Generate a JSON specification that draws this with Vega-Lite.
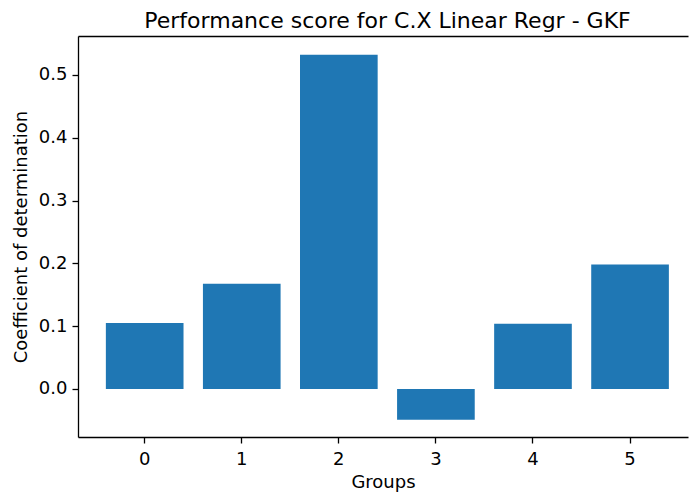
{
  "$schema": "https://vega.github.io/schema/vega-lite/v6.json",
  "width": 610,
  "height": 401,
  "autosize": "none",
  "padding": {"left": 78, "top": 36, "right": 1, "bottom": 58},
  "background": "white",
  "title": {
    "text": "Performance score for C.X Linear Regr - GKF",
    "font": "DejaVu Sans",
    "fontSize": 22,
    "fontWeight": "normal",
    "color": "black",
    "anchor": "middle",
    "frame": "group",
    "dx": 4.5,
    "offset": -14,
    "baseline": "alphabetic"
  },
  "config": {
    "view": {"stroke": null},
    "axis": {
      "labelFont": "DejaVu Sans",
      "titleFont": "DejaVu Sans",
      "labelFontSize": 18,
      "titleFontSize": 18,
      "titleFontWeight": "normal",
      "labelColor": "black",
      "titleColor": "black",
      "domainColor": "black",
      "tickColor": "black",
      "domainWidth": 1.3,
      "tickWidth": 1.3,
      "tickSize": 6,
      "labelPadding": 7,
      "grid": false
    }
  },
  "data": {
    "values": [
      {"group": "0", "score": 0.105},
      {"group": "1", "score": 0.1677},
      {"group": "2", "score": 0.5323},
      {"group": "3", "score": -0.0489},
      {"group": "4", "score": 0.104},
      {"group": "5", "score": 0.198}
    ]
  },
  "layer": [
    {
      "mark": {"type": "bar", "color": "#1f77b4"},
      "encoding": {
        "x": {
          "field": "group",
          "type": "ordinal",
          "sort": "ascending",
          "scale": {"paddingInner": 0.2, "paddingOuter": 0.242, "align": 0.593},
          "axis": {"orient": "bottom", "labelAngle": 0, "title": "Groups", "titlePadding": 5}
        },
        "y": {
          "field": "score",
          "type": "quantitative",
          "scale": {"domain": [-0.0765, 0.562], "nice": false, "zero": false},
          "axis": {
            "title": "Coefficient of determination",
            "values": [0, 0.1, 0.2, 0.3, 0.4, 0.5],
            "format": ".1f",
            "labelPadding": 5,
            "titlePadding": 8
          }
        }
      }
    },
    {
      "mark": {"type": "bar", "opacity": 0},
      "encoding": {
        "x": {
          "field": "group",
          "type": "ordinal",
          "sort": "ascending",
          "axis": {"orient": "top", "labels": false, "ticks": false, "title": null, "domain": true}
        },
        "y": {"field": "score", "type": "quantitative", "axis": null}
      }
    }
  ],
  "resolve": {"axis": {"x": "independent", "y": "independent"}}
}
